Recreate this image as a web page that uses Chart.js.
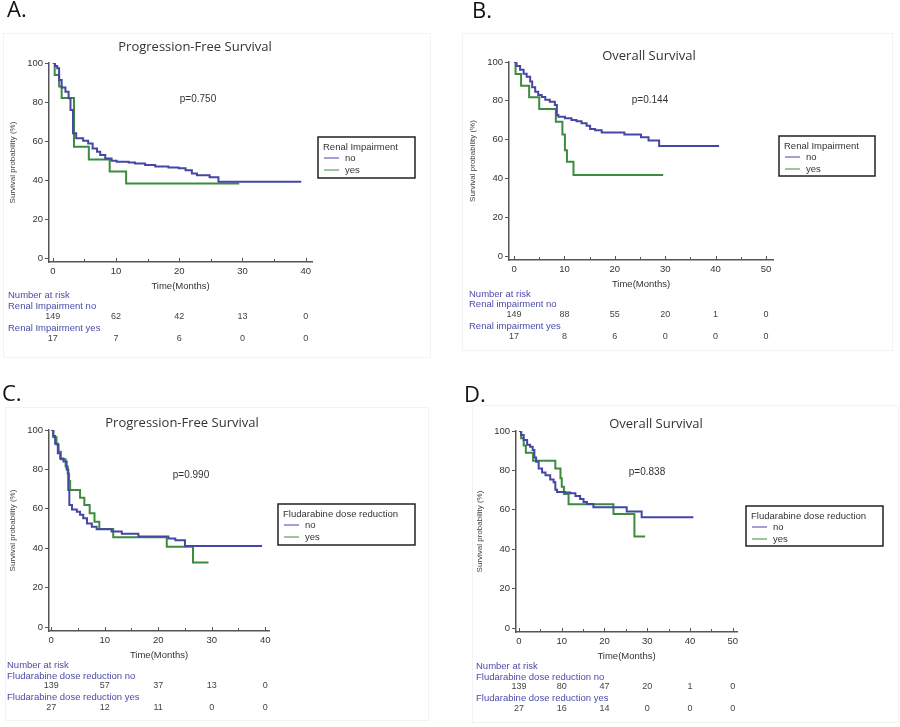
<!DOCTYPE html>
<html>
<head>
<meta charset="utf-8">
<script src="https://cdn.jsdelivr.net/npm/chart.js@4.4.1/dist/chart.umd.min.js"></script>
<style>
  body { margin: 0; background: #fff; }
  #wrap { position: relative; width: 900px; height: 727px; }
  canvas { position: absolute; }
</style>
</head>
<body>
<div id="wrap">
  <canvas id="chartA" width="450" height="360" style="left:0;top:0"></canvas>
  <canvas id="chartB" width="450" height="360" style="left:450px;top:0"></canvas>
  <canvas id="chartC" width="450" height="367" style="left:0;top:360px"></canvas>
  <canvas id="chartD" width="450" height="367" style="left:450px;top:360px"></canvas>
</div>
<script>
// tick values
const xTicks40 = [0, 10, 20, 30, 40];
const xTicks50 = [0, 10, 20, 30, 40, 50];
const yTicks = [0, 20, 40, 60, 80, 100];

// Kaplan-Meier steps: [month, survival %]
const pfsRenalNo = [[0,100],[0.35,98.5],[0.7,97.3],[1.0,91.3],[1.4,87.5],[2.0,85.3],[2.5,81.9],[2.8,75.9],[3.2,64],[3.7,61.4],[4.8,60.2],[5.6,58.8],[6.3,56.2],[7.0,54.5],[7.5,52.8],[8.3,51.1],[9.3,49.9],[10.1,49.4],[12,49],[13,48.5],[14.6,47.7],[16.2,47],[18.3,46.5],[19.9,46],[21,45],[22,43.4],[22.8,42.5],[24.8,41.5],[26.2,39.1],[39.3,39.1]];
const pfsRenalYes = [[0,100],[0.3,93.8],[1.0,88],[1.4,82],[3.35,57.1],[5.7,50.6],[9.0,44.4],[11.6,38.3],[29.5,38.3]];

const osRenalNo = [[0,100],[0.5,98],[1.2,96],[1.9,94],[2.5,92.4],[3.2,90],[3.6,87],[4.2,84.7],[4.8,83],[5.5,82],[6.2,80.5],[7.1,79.5],[8.1,77.8],[8.5,72.7],[8.8,71.8],[10.1,71],[11.4,70.1],[12.4,69.5],[13.4,68.4],[14.4,67.2],[15.1,65.5],[16.1,64.8],[17.4,63.7],[21.9,62.7],[25.2,61.2],[26.7,59.5],[28.8,56.7],[40.7,56.7]];
const osRenalYes = [[0,100],[0.3,93.8],[1.4,87.8],[3.0,81.8],[5.0,75.8],[8.3,69.2],[9.6,62.7],[10.1,54.6],[10.5,48.6],[11.8,41.8],[29.6,41.8]];

const pfsFluNo = [[0,100],[0.4,97],[0.75,93],[1.25,88.2],[1.7,85.6],[2.3,84],[2.9,80],[3.2,69.5],[3.4,62],[3.9,59.7],[4.8,58.5],[5.4,57],[6.0,55.2],[6.7,52.6],[7.6,50.9],[8.5,49.6],[11.3,48.5],[13.2,47.4],[16.3,45.9],[21.9,45],[23.2,44],[25.0,41.1],[39.4,41.1]];
const pfsFluYes = [[0,100],[0.4,96.3],[1.0,92.6],[1.4,88.9],[1.8,85.2],[2.7,81.5],[3.1,77.8],[3.35,74.1],[3.55,69.5],[5.4,65.6],[6.2,61.9],[7.2,57.8],[8.1,53.5],[9.0,49.7],[11.6,45.6],[21.6,40.8],[26.5,32.8],[29.4,32.8]];

const osFluNo = [[0,100],[0.5,98],[1.1,95.4],[1.9,93],[2.6,92],[3.2,90.4],[3.6,86.6],[4.0,84.4],[4.6,81],[5.4,79],[6.2,77.5],[7.3,75.4],[8.1,74],[8.5,70.2],[8.9,69],[10.8,68.8],[12,68.4],[13.2,67],[14.3,65.5],[15.1,64],[15.9,62.9],[17.4,61.3],[25.2,59.1],[28.7,56.2],[40.8,56.2]];
const osFluYes = [[0,100],[0.5,96.3],[1.1,92.6],[1.6,88.9],[3.3,84.9],[8.5,81],[9.7,76],[10.0,71.7],[10.5,68],[11.6,62.8],[22.1,57.9],[27.0,46.4],[29.5,46.4]];

// number at risk
const riskA_no = [149, 62, 42, 13, 0];
const riskA_yes = [17, 7, 6, 0, 0];
const riskB_no = [149, 88, 55, 20, 1, 0];
const riskB_yes = [17, 8, 6, 0, 0, 0];
const riskC_no = [139, 57, 37, 13, 0];
const riskC_yes = [27, 12, 11, 0, 0];
const riskD_no = [139, 80, 47, 20, 1, 0];
const riskD_yes = [27, 16, 14, 0, 0, 0];

const BLUE = '#4646a6';
const GREEN = '#3d8c3d';
const LABEL_BLUE = '#4b4baa';
const SANS = '"Liberation Sans", Arial, sans-serif';
const OPEN = '"Open Sans", sans-serif';

function makeDecor(d) {
  return {
    id: 'decor',
    beforeDraw(chart) {
      const ctx = chart.ctx;
      ctx.save();
      ctx.strokeStyle = '#f3f3f3';
      ctx.lineWidth = 1;
      ctx.strokeRect(d.frame[0], d.frame[1], d.frame[2], d.frame[3]);
      ctx.restore();
    },
    afterDraw(chart) {
      const ctx = chart.ctx;
      const xs = chart.scales.x;
      const area = chart.chartArea;
      ctx.save();
      ctx.textBaseline = 'middle';

      ctx.fillStyle = '#111';
      ctx.textAlign = 'left';
      ctx.font = '22px ' + OPEN;
      ctx.fillText(d.letter, d.letterPos[0], d.letterPos[1]);

      ctx.fillStyle = '#333';
      ctx.textAlign = 'center';
      ctx.font = '13px ' + OPEN;
      ctx.fillText(d.title, d.titlePos[0], d.titlePos[1]);

      ctx.font = '10px ' + SANS;
      ctx.fillText(d.pText, d.pPos[0], d.pPos[1]);

      // small inward ticks on the time axis
      ctx.strokeStyle = '#555';
      ctx.lineWidth = 1;
      for (let t = 0; t <= xs.max; t += 5) {
        const px = Math.round(xs.getPixelForValue(t)) + 0.5;
        ctx.beginPath();
        ctx.moveTo(px, area.bottom);
        ctx.lineTo(px, area.bottom - (t % 10 === 0 ? 4 : 3));
        ctx.stroke();
      }

      // legend box
      const [lx, ly, lw, lh] = d.legendBox;
      ctx.strokeStyle = '#222';
      ctx.lineWidth = 1.5;
      ctx.strokeRect(lx, ly, lw, lh);
      ctx.textAlign = 'left';
      ctx.fillStyle = '#333';
      ctx.font = '9.5px ' + SANS;
      ctx.fillText(d.legendTitle, lx + 5, ly + 10);
      ctx.lineWidth = 1;
      [[BLUE, 'no', 21], [GREEN, 'yes', 33]].forEach(([c, txt, dy]) => {
        ctx.strokeStyle = c;
        ctx.beginPath();
        ctx.moveTo(lx + 6, ly + dy);
        ctx.lineTo(lx + 21, ly + dy);
        ctx.stroke();
        ctx.fillText(txt, lx + 27, ly + dy);
      });

      // number at risk
      ctx.fillStyle = LABEL_BLUE;
      ctx.font = '9.5px ' + SANS;
      ctx.fillText('Number at risk', d.riskX, d.riskY[0]);
      ctx.fillText(d.groupNo, d.riskX, d.riskY[1]);
      ctx.fillText(d.groupYes, d.riskX, d.riskY[3]);
      ctx.fillStyle = '#444';
      ctx.textAlign = 'center';
      ctx.font = '9px ' + SANS;
      d.ticks.forEach((t, i) => {
        const px = xs.getPixelForValue(t);
        ctx.fillText(String(d.riskNo[i]), px, d.riskY[2]);
        ctx.fillText(String(d.riskYes[i]), px, d.riskY[4]);
      });
      ctx.restore();
    }
  };
}

function makePanel(id, p) {
  new Chart(document.getElementById(id), {
    type: 'line',
    data: {
      datasets: [
        { label: 'no', data: p.no, borderColor: BLUE, borderWidth: 2, stepped: true, pointRadius: 0, fill: false },
        { label: 'yes', data: p.yes, borderColor: GREEN, borderWidth: 2, stepped: true, pointRadius: 0, fill: false }
      ]
    },
    options: {
      responsive: false,
      animation: false,
      layout: { padding: p.padding },
      plugins: { legend: { display: false }, tooltip: { enabled: false } },
      scales: {
        x: {
          type: 'linear',
          min: p.xMin,
          max: p.xMax,
          afterBuildTicks: s => { s.ticks = p.ticks.map(v => ({ value: v })); },
          afterFit: s => { s.height = 30; },
          grid: { display: false, drawTicks: false },
          border: { color: '#555', width: 1.5 },
          ticks: { padding: 4, color: '#333', font: { family: SANS, size: 9.5 } },
          title: { display: true, text: 'Time(Months)', color: '#333', font: { family: SANS, size: 9.5 }, padding: { top: 0, bottom: 0 } }
        },
        y: {
          min: -2,
          max: 100,
          afterBuildTicks: s => { s.ticks = yTicks.map(v => ({ value: v })); },
          afterFit: s => { s.width = 49; },
          grid: { display: true, drawOnChartArea: false, drawTicks: true, tickLength: 4, color: '#555' },
          border: { color: '#555', width: 1.5 },
          ticks: { padding: 2, color: '#333', font: { family: SANS, size: 9.5 } },
          title: { display: true, text: 'Survival probability (%)', color: '#444', font: { family: SANS, size: 8 }, padding: { top: 8, bottom: 0 } }
        }
      }
    },
    plugins: [makeDecor(p)]
  });
}

makePanel('chartA', {
  no: pfsRenalNo, yes: pfsRenalYes, ticks: xTicks40, xMin: -0.6, xMax: 41,
  padding: { left: 0, right: 138, top: 63, bottom: 68 },
  frame: [3.5, 33.5, 427, 324],
  letter: 'A.', letterPos: [7, 11],
  title: 'Progression-Free Survival', titlePos: [195, 47],
  pText: 'p=0.750', pPos: [198, 99],
  legendBox: [318, 137, 97, 41], legendTitle: 'Renal Impairment',
  riskX: 8, riskY: [295, 306, 317, 328, 339],
  groupNo: 'Renal Impairment no', groupYes: 'Renal Impairment yes',
  riskNo: riskA_no, riskYes: riskA_yes
});

makePanel('chartB', {
  no: osRenalNo, yes: osRenalYes, ticks: xTicks50, xMin: -1, xMax: 51.4,
  padding: { left: 10, right: 127, top: 62, bottom: 70 },
  frame: [12.5, 33.5, 430, 317],
  letter: 'B.', letterPos: [22, 12],
  title: 'Overall Survival', titlePos: [199, 56],
  pText: 'p=0.144', pPos: [200, 100],
  legendBox: [329, 136, 96, 40], legendTitle: 'Renal Impairment',
  riskX: 19, riskY: [294, 304, 315, 326, 337],
  groupNo: 'Renal impairment no', groupYes: 'Renal impairment yes',
  riskNo: riskB_no, riskYes: riskB_yes
});

makePanel('chartC', {
  no: pfsFluNo, yes: pfsFluYes, ticks: xTicks40, xMin: -0.4, xMax: 40.7,
  padding: { left: 0, right: 181, top: 70, bottom: 66 },
  frame: [5.5, 47.5, 423, 313],
  letter: 'C.', letterPos: [2, 35],
  title: 'Progression-Free Survival', titlePos: [182, 63],
  pText: 'p=0.990', pPos: [191, 115],
  legendBox: [278, 144, 137, 41], legendTitle: 'Fludarabine dose reduction',
  riskX: 7, riskY: [305, 316, 326, 337, 348],
  groupNo: 'Fludarabine dose reduction no', groupYes: 'Fludarabine dose reduction yes',
  riskNo: riskC_no, riskYes: riskC_yes
});

makePanel('chartD', {
  no: osFluNo, yes: osFluYes, ticks: xTicks50, xMin: -0.7, xMax: 51,
  padding: { left: 17, right: 163, top: 71, bottom: 65 },
  frame: [22.5, 45.5, 426, 317],
  letter: 'D.', letterPos: [14, 36],
  title: 'Overall Survival', titlePos: [206, 64],
  pText: 'p=0.838', pPos: [197, 112],
  legendBox: [296, 146, 137, 40], legendTitle: 'Fludarabine dose reduction',
  riskX: 26, riskY: [306, 317, 327, 338, 349],
  groupNo: 'Fludarabine dose reduction no', groupYes: 'Fludarabine dose reduction yes',
  riskNo: riskD_no, riskYes: riskD_yes
});
</script>
</body>
</html>
